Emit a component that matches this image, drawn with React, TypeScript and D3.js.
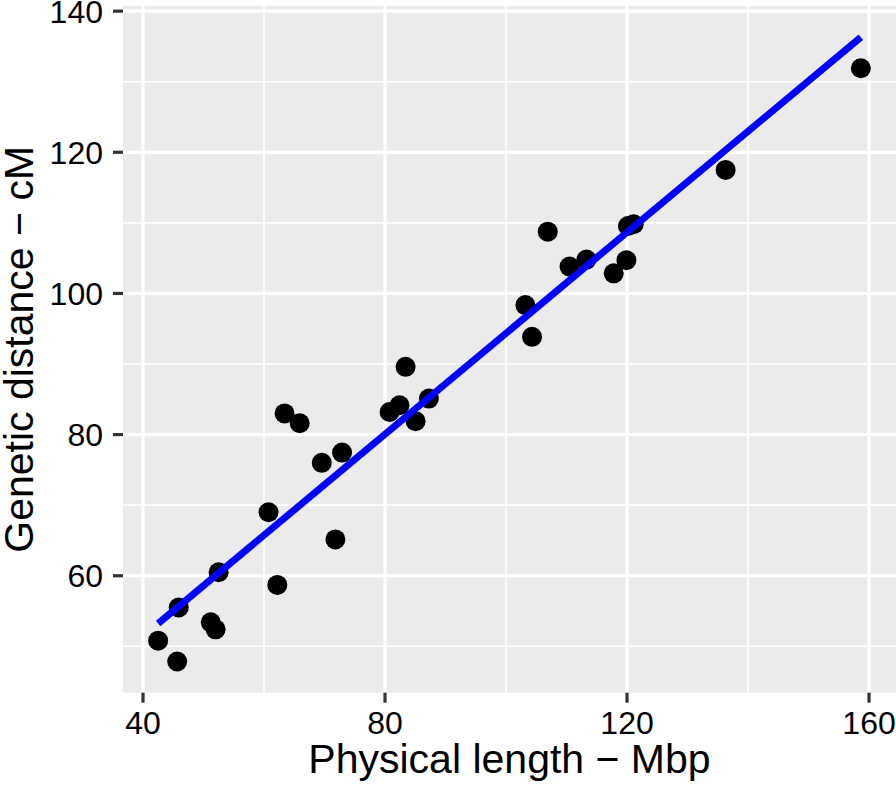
import { useEffect, useRef } from "react";
import * as d3 from "d3";

// physical length (Mbp) and genetic distance (cM) per chromosome
const physicalLength = [
  42.5, 45.65, 45.9, 51.2, 52.0, 52.5, 62.2, 60.75, 71.8, 63.4,
  65.9, 69.55, 72.9, 80.75, 82.4, 83.4, 85.05, 87.25, 103.2, 104.3,
  106.9, 110.5, 113.3, 117.8, 119.9, 120.15, 121.1, 136.3, 158.65,
];
const geneticDistance = [
  50.8, 47.85, 55.5, 53.4, 52.4, 60.5, 58.7, 69.0, 65.15, 83.0,
  81.6, 76.0, 77.45, 83.2, 84.15, 89.6, 81.9, 85.1, 98.35, 93.85,
  108.75, 103.8, 104.8, 102.85, 104.7, 109.55, 109.8, 117.5, 131.9,
];
const xTicks = [40, 80, 120, 160];
const yTicks = [60, 80, 100, 120, 140];
const xMinor = [60, 100, 140];
const yMinor = [50, 70, 90, 110, 130];

function App() {
  const svgRef = useRef(null);
  const width = 896;
  const height = 788;

  useEffect(() => {
    const svg = d3.select(svgRef.current);
    svg.selectAll("*").remove();

    const points = physicalLength.map((x, i) => ({ x, y: geneticDistance[i] }));

    // least squares fit (geom_smooth method = "lm")
    const mx = d3.mean(points, (d) => d.x);
    const my = d3.mean(points, (d) => d.y);
    const slope =
      d3.sum(points, (d) => (d.x - mx) * (d.y - my)) /
      d3.sum(points, (d) => (d.x - mx) * (d.x - mx));
    const intercept = my - slope * mx;
    const [x0, x1] = d3.extent(physicalLength);
    const fit = [
      { x: x0, y: intercept + slope * x0 },
      { x: x1, y: intercept + slope * x1 },
    ];

    const expand = (lo, hi) => {
      const pad = (hi - lo) * 0.05;
      return [lo - pad, hi + pad];
    };
    const yAll = geneticDistance.concat(fit.map((d) => d.y));

    const left = 123, right = 896, top = 6, bottom = 692.7;
    const x = d3.scaleLinear().domain(expand(x0, x1)).range([left, right]);
    const y = d3.scaleLinear().domain(expand(d3.min(yAll), d3.max(yAll))).range([bottom, top]);

    svg.append("rect")
      .attr("x", left).attr("y", top)
      .attr("width", right - left).attr("height", bottom - top)
      .attr("fill", "#EBEBEB");

    const grid = svg.append("g").attr("stroke", "white");
    grid.selectAll(".vminor").data(xMinor).join("line")
      .attr("x1", (d) => x(d)).attr("x2", (d) => x(d))
      .attr("y1", top).attr("y2", bottom).attr("stroke-width", 1.6);
    grid.selectAll(".hminor").data(yMinor).join("line")
      .attr("x1", left).attr("x2", right)
      .attr("y1", (d) => y(d)).attr("y2", (d) => y(d)).attr("stroke-width", 1.6);
    grid.append("g").selectAll("line").data(xTicks).join("line")
      .attr("x1", (d) => x(d)).attr("x2", (d) => x(d))
      .attr("y1", top).attr("y2", bottom).attr("stroke-width", 3.2);
    grid.append("g").selectAll("line").data(yTicks).join("line")
      .attr("x1", left).attr("x2", right)
      .attr("y1", (d) => y(d)).attr("y2", (d) => y(d)).attr("stroke-width", 3.2);

    svg.append("g").selectAll("circle")
      .data(points)
      .join("circle")
      .attr("cx", (d) => x(d.x))
      .attr("cy", (d) => y(d.y))
      .attr("r", 10)
      .attr("fill", "black");

    svg.append("path")
      .datum(fit)
      .attr("d", d3.line().x((d) => x(d.x)).y((d) => y(d.y)))
      .attr("stroke", "#0000FF")
      .attr("stroke-width", 7)
      .attr("fill", "none");

    const font = "Liberation Sans, Arial, sans-serif";

    // x axis
    const xa = svg.append("g");
    xa.selectAll("line").data(xTicks).join("line")
      .attr("x1", (d) => x(d)).attr("x2", (d) => x(d))
      .attr("y1", bottom).attr("y2", bottom + 10)
      .attr("stroke", "#333333").attr("stroke-width", 3.2);
    xa.selectAll("text").data(xTicks).join("text")
      .attr("x", (d) => x(d)).attr("y", 734)
      .attr("text-anchor", "middle")
      .attr("font-family", font).attr("font-size", 32).attr("fill", "black")
      .text((d) => d);

    // y axis
    const ya = svg.append("g");
    ya.selectAll("line").data(yTicks).join("line")
      .attr("x1", left - 10).attr("x2", left)
      .attr("y1", (d) => y(d)).attr("y2", (d) => y(d))
      .attr("stroke", "#333333").attr("stroke-width", 3.2);
    ya.selectAll("text").data(yTicks).join("text")
      .attr("x", 103).attr("y", (d) => y(d)).attr("dy", "0.36em")
      .attr("text-anchor", "end")
      .attr("font-family", font).attr("font-size", 32).attr("fill", "black")
      .text((d) => d);

    svg.append("text")
      .attr("x", (left + right) / 2).attr("y", 773)
      .attr("text-anchor", "middle")
      .attr("font-family", font).attr("font-size", 41).attr("fill", "black")
      .text("Physical length \u2212 Mbp");

    svg.append("text")
      .attr("transform", `translate(33,${(top + bottom) / 2}) rotate(-90)`)
      .attr("text-anchor", "middle")
      .attr("font-family", font).attr("font-size", 41).attr("fill", "black")
      .text("Genetic distance \u2212 cM");
  }, []);

  return (
    <div style={{ position: "absolute", left: 0, top: 0 }}>
      <svg ref={svgRef} width={width} height={height} viewBox={`0 0 ${width} ${height}`}></svg>
    </div>
  );
}

export default App;
